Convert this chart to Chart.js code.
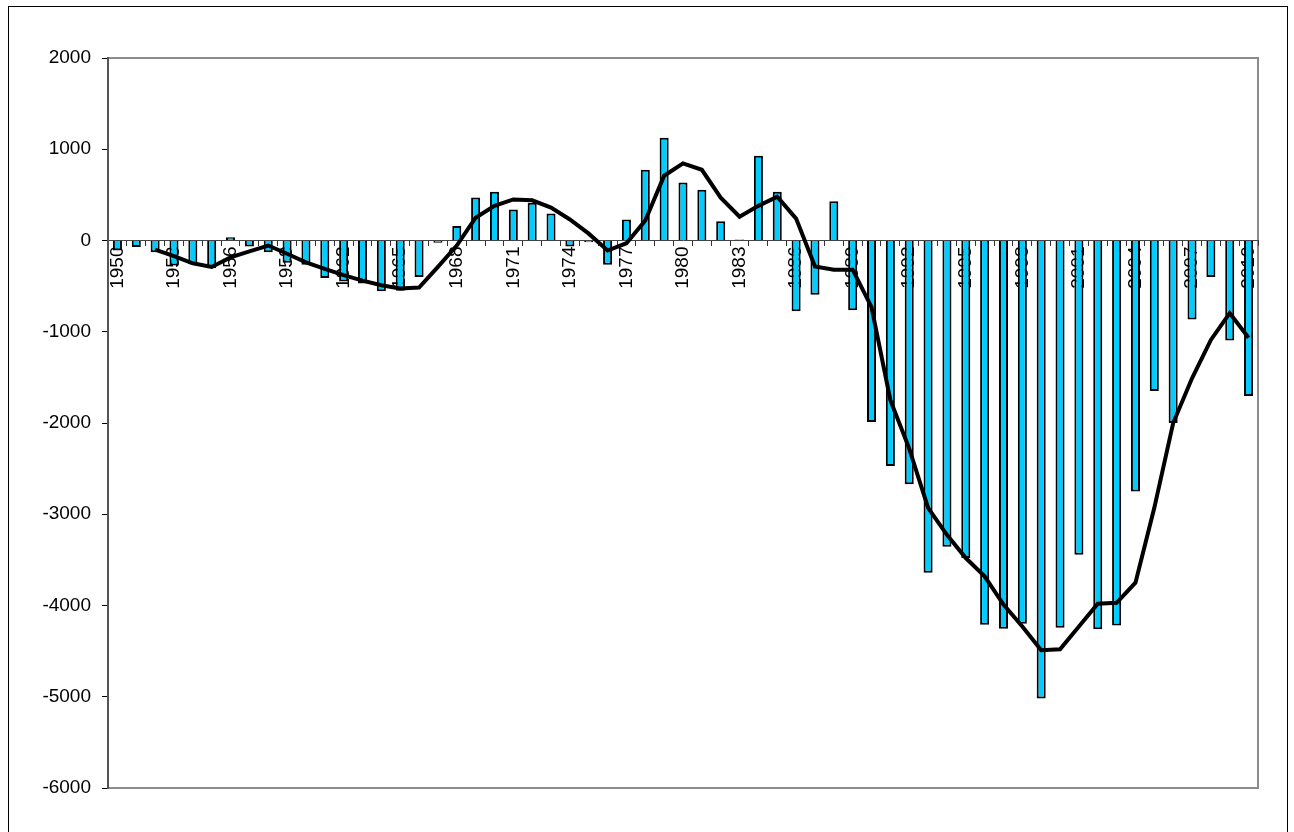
<!DOCTYPE html>
<html>
<head>
<meta charset="utf-8">
<title>Chart</title>
<script src="https://cdn.jsdelivr.net/npm/chart.js@4"></script>
<style>
    html, body { margin: 0; padding: 0; background: #fff; }
    #wrap { width: 1294px; height: 832px; position: relative; }
</style>
</head>
<body>
<div id="wrap"><canvas id="myChart" width="1294" height="832"></canvas></div>
<script>
// years on the x axis
const years = [];
for (let y = 1950; y <= 2010; y++) years.push(String(y));

// yearly values (bars)
const barValues = [
    -110, -70, -130, -275, -260, -305, 35, -65, -130, -245,
    -265, -410, -450, -470, -555, -550, -400, -25, 160, 470,
    535, 340, 415, 295, -65, -20, -265, 230, 775, 1125,
    635, 555, 210, 10, 930, 535, -775, -595, 430, -765,
    -1990, -2470, -2670, -3640, -3355, -3480, -4210, -4255, -4200, -5020,
    -4245, -3445, -4260, -4220, -2750, -1650, -2000, -865, -400, -1095,
    -1705
];

// smoothed trend (line)
const trendValues = [
    null, null, -100, -170, -250, -290, -185, -120, -55, -145,
    -240, -310, -380, -440, -490, -525, -515, -290, -55, 250,
    380, 450, 440, 360, 230, 75, -110, -30, 220, 710,
    845, 775, 470, 260, 380, 480, 240, -285, -320, -320,
    -730, -1750, -2280, -2930, -3225, -3480, -3680, -3990, -4230, -4490,
    -4480, -4230, -3980, -3970, -3750, -2930, -2000, -1510, -1090, -795,
    -1065
];

const yMin = -6000;
const yMax = 2000;
const yStep = 1000;

const frame = {
    id: 'frame',
    beforeDraw(chart) {
        const ctx = chart.ctx;
        const a = chart.chartArea;
        ctx.save();
        ctx.fillStyle = '#fff';
        ctx.fillRect(0, 0, chart.width, chart.height);
        ctx.strokeStyle = '#000';
        ctx.lineWidth = 1;
        ctx.strokeRect(8.5, 6.5, 1279, 840);
        ctx.strokeStyle = '#8c8c8c';
        ctx.lineWidth = 2;
        ctx.strokeRect(a.left, a.top, a.right - a.left, a.bottom - a.top);
        ctx.restore();
    }
};

const font = { family: 'Liberation Sans, Arial, sans-serif', size: 19 };

const ctx = document.getElementById('myChart').getContext('2d');
new Chart(ctx, {
    type: 'bar',
    data: {
        labels: years,
        datasets: [{
            type: 'line',
            data: trendValues,
            borderColor: '#000',
            borderWidth: 4,
            pointRadius: 0,
            tension: 0,
            fill: false,
            order: 0
        }, {
            type: 'bar',
            data: barValues,
            backgroundColor: '#00ccff',
            borderColor: '#000',
            borderWidth: 2,
            barPercentage: 0.48,
            categoryPercentage: 1,
            order: 1
        }]
    },
    options: {
        responsive: false,
        animation: false,
        layout: { padding: { top: 58, right: 36, bottom: 44, left: 0 } },
        plugins: { legend: { display: false }, tooltip: { enabled: false } },
        scales: {
            x: {
                position: { y: 0 },
                z: 1,
                offset: true,
                grid: {
                    offset: true,
                    drawOnChartArea: false,
                    drawTicks: true,
                    tickLength: 5,
                    tickColor: '#333'
                },
                border: { display: true, color: '#444', width: 1 },
                ticks: {
                    autoSkip: false,
                    minRotation: 90,
                    maxRotation: 90,
                    padding: 1,
                    color: '#000',
                    font: font,
                    callback: function (val, index) {
                        return index % 3 === 0 ? this.getLabelForValue(val) : '';
                    }
                }
            },
            y: {
                min: yMin,
                max: yMax,
                afterFit: (scale) => { scale.width = 108; },
                grid: {
                    drawOnChartArea: false,
                    drawTicks: true,
                    tickLength: 6,
                    tickColor: '#000'
                },
                border: { display: true, color: '#555', width: 2 },
                ticks: {
                    stepSize: yStep,
                    padding: 11,
                    color: '#000',
                    font: font,
                    callback: (v) => String(v)
                }
            }
        }
    },
    plugins: [frame]
});
</script>
</body>
</html>
